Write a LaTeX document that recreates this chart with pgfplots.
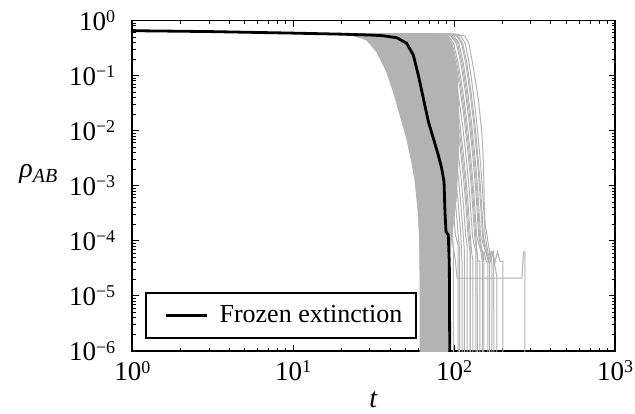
\documentclass[border=0pt]{standalone}
\usepackage{fontspec}
\setmainfont{Liberation Serif}
\usepackage{pgfplots}
\pgfplotsset{compat=1.18}
\definecolor{traj}{RGB}{179,179,179}
\newcommand{\tp}[1]{10\raisebox{3.8pt}{\fontsize{9}{11}\selectfont #1}}
\newcommand{\figfont}{\fontsize{13}{15}\selectfont}
\newcommand{\tickfont}{\fontsize{13.5}{15}\selectfont}

\begin{document}
\begin{tikzpicture}
\begin{axis}[
  name=ax,
  scale only axis,
  width=241.35pt, height=165.25pt,
  xmode=log, ymode=log,
  xmin=1, xmax=1000, ymin=1e-6, ymax=1,
  xtick={1,10,100,1000},
  xticklabels={\tp{0},\tp{1},\tp{2},\tp{3}},
  ytick={1e-6,1e-5,1e-4,1e-3,1e-2,1e-1,1},
  yticklabels={\tp{−6},\tp{−5},\tp{−4},\tp{−3},\tp{−2},\tp{−1},\tp{0}},
  tick align=inside,
  major tick length=3.2pt, minor tick length=1.7pt,
  axis line style={line width=0.8pt},
  every tick/.style={black, line width=0.5pt},
  tick label style={font=\tickfont},
  xticklabel style={yshift=-1.5pt},
  yticklabel style={xshift=-5pt},
  xlabel={\textit{t}},
  xlabel style={font=\fontsize{14}{16}\selectfont, yshift=1.5pt},
  ylabel={\fontsize{14}{16}\selectfont\textit{ρ}\raisebox{-2.5pt}{\fontsize{10}{12}\selectfont\textit{AB}}},
  every axis y label/.style={at={(ticklabel cs:0.535)}, anchor=east, xshift=1pt},
  legend style={at={(axis description cs:0.0263,0.0363)}, anchor=south west,
    draw=black, line width=0.8pt, font=\figfont, inner xsep=5pt, inner ysep=4.2pt,
    cells={anchor=west}},
  legend image code/.code={\path (0pt,0pt) (28.5pt,0pt); \draw[#1] (4.5pt,0pt) -- (25pt,0pt);},
  gl/.style={traj, line width=0.5pt, forget plot},
]

% dense core of the trajectories
\addplot[fill=traj, draw=traj, line width=0.4pt, forget plot] coordinates {
(20,0.57) (23,0.54) (26,0.487) (28.6,0.443) (33,0.271) (38.1,0.1175) (41.9,0.051)
(46.1,0.0192) (50.7,0.00727) (54.5,0.00273) (57.1,0.00127) (59.9,3.16e-4) (61,1e-4)
(61.4,1.95e-5) (61.4,1e-7) (91.6,1e-7) (92,2e-5) (93,4.4e-5) (97,1.27e-4) (103,5.5e-4)
(106,2.9e-3) (107,0.0238) (104,0.126) (97,0.36) (90,0.545) (80,0.57)};

% single trajectories
\addplot[gl] coordinates {(20,0.57)(44,0.565)(52,0.52)(59,0.39)(66,0.17)(73,0.055)(80,0.015)(86,4e-3)(91,1.2e-3)(95,3.5e-4)(98,1.27e-4)(99,6.33e-5)(99,1e-7)};
\addplot[gl] coordinates {(20,0.57)(48,0.565)(56,0.52)(63,0.39)(70,0.17)(77,0.055)(84,0.015)(90,4e-3)(95,1.2e-3)(99,3.5e-4)(102,1.27e-4)(106,8.44e-5)(106,1e-7)};
\addplot[gl] coordinates {(20,0.57)(52,0.565)(60,0.52)(67,0.39)(74,0.17)(81,0.055)(88,0.015)(94,4e-3)(99,1.2e-3)(103,3.5e-4)(106,1.27e-4)(108.4,6.33e-5)(108.4,1e-7)};
\addplot[gl] coordinates {(20,0.57)(56,0.565)(64,0.52)(71,0.39)(78,0.17)(85,0.055)(92,0.015)(98,4e-3)(103,1.2e-3)(107,3.5e-4)(110,1.27e-4)(112,4.22e-5)(112,1e-7)};
\addplot[gl] coordinates {(20,0.57)(60,0.565)(68,0.52)(75,0.39)(82,0.17)(89,0.055)(96,0.015)(102,4e-3)(107,1.2e-3)(111,3.5e-4)(114,1.27e-4)(116,6.33e-5)(116,1e-7)};
\addplot[gl] coordinates {(20,0.57)(64,0.565)(72,0.52)(79,0.39)(86,0.17)(93,0.055)(100,0.015)(106,4e-3)(111,1.2e-3)(115,3.5e-4)(118,1.27e-4)(120.3,8.44e-5)(120.3,1e-7)};
\addplot[gl] coordinates {(20,0.57)(68,0.565)(76,0.52)(83,0.39)(90,0.17)(97,0.055)(104,0.015)(110,4e-3)(115,1.2e-3)(119,3.5e-4)(122,1.27e-4)(125.6,6.33e-5)(125.6,1e-7)};
\addplot[gl] coordinates {(20,0.57)(72,0.565)(80,0.52)(87,0.39)(94,0.17)(101,0.055)(108,0.015)(114,4e-3)(119,1.2e-3)(123,3.5e-4)(126,1.27e-4)(128.5,6.33e-5)(131,4.22e-5)(131,1e-7)};
\addplot[gl] coordinates {(20,0.57)(76,0.565)(84,0.52)(91,0.39)(98,0.17)(105,0.055)(112,0.015)(118,4e-3)(123,1.2e-3)(127,3.5e-4)(130,1.27e-4)(133,8.44e-5)(136.8,6.33e-5)(136.8,1e-7)};
\addplot[gl] coordinates {(20,0.57)(80,0.565)(88,0.52)(95,0.39)(102,0.17)(109,0.055)(116,0.015)(122,4e-3)(127,1.2e-3)(131,3.5e-4)(134,1.27e-4)(138,6.33e-5)(141,4.22e-5)(144.8,4.22e-5)(144.8,1e-7)};
\addplot[gl] coordinates {(20,0.57)(84,0.565)(92,0.52)(99,0.39)(106,0.17)(113,0.055)(120,0.015)(126,4e-3)(131,1.2e-3)(135,3.5e-4)(138,1.27e-4)(143,8.44e-5)(147,6.33e-5)(150,4.22e-5)(153.4,6.33e-5)(153.4,1e-7)};
\addplot[gl] coordinates {(20,0.57)(88,0.565)(96,0.52)(103,0.39)(110,0.17)(117,0.055)(124,0.015)(130,4e-3)(135,1.2e-3)(139,3.5e-4)(142,1.27e-4)(148,6.33e-5)(154,6.33e-5)(158,4.22e-5)(162.4,4.22e-5)(162.4,1e-7)};
\addplot[gl] coordinates {(20,0.57)(92,0.565)(100,0.52)(107,0.39)(114,0.17)(121,0.055)(128,0.015)(134,4e-3)(139,1.2e-3)(143,3.5e-4)(146,1.27e-4)(152,8.44e-5)(158,6.33e-5)(163,4.22e-5)(167,6.33e-5)(171.9,4.22e-5)(171.9,1e-7)};
\addplot[gl] coordinates {(20,0.57)(96,0.565)(104,0.52)(111,0.39)(118,0.17)(125,0.055)(132,0.015)(138,4e-3)(143,1.2e-3)(147,3.5e-4)(150,1.27e-4)(157,6.33e-5)(165,4.22e-5)(172,6.33e-5)(178,4.22e-5)(184.6,2.11e-5)(184.6,1e-7)};
\addplot[gl] coordinates {(20,0.57)(103,0.565)(116.5,0.523)(123.5,0.386)(131.4,0.145)(141.6,0.036)(148.9,8.9e-3)(152.5,2.2e-3)(153.8,5.5e-4)(156,2e-4)(160,1.27e-4)(166,6.33e-5)(173,6.33e-5)(180,4.22e-5)(186,6.33e-5)(193,4.22e-5)(201,4.22e-5)(201,1e-7)};
\addplot[gl] coordinates {(20,0.57)(42,0.565)(50,0.52)(57,0.39)(64,0.17)(71,0.055)(78,0.015)(84,4e-3)(89,1.2e-3)(93,3.5e-4)(96,1.27e-4)(100,6.33e-5)(102,4.22e-5)(104.3,2.11e-5)(264,2.11e-5)(270,6.33e-5)(275.6,6.33e-5)(275.6,1e-7)};
\addplot[gl] coordinates {(20,0.57)(70,0.565)(78,0.52)(85,0.39)(92,0.17)(99,0.055)(106,0.015)(112,4e-3)(117,1.2e-3)(121,3.5e-4)(124,1.27e-4)(126,8.44e-5)(126,1e-7)};
\addplot[gl] coordinates {(20,0.57)(82,0.565)(90,0.52)(97,0.39)(104,0.17)(111,0.055)(118,0.015)(124,4e-3)(129,1.2e-3)(133,3.5e-4)(136,1.27e-4)(139,6.33e-5)(140,1e-7)};
\addplot[gl] coordinates {(20,0.57)(90,0.565)(98,0.52)(105,0.39)(112,0.17)(119,0.055)(126,0.015)(132,4e-3)(137,1.2e-3)(141,3.5e-4)(144,1.27e-4)(147,8.44e-5)(150,6.33e-5)(150,1e-7)};
\addplot[gl] coordinates {(20,0.57)(98,0.565)(106,0.52)(113,0.39)(120,0.17)(127,0.055)(134,0.015)(140,4e-3)(145,1.2e-3)(149,3.5e-4)(152,1.27e-4)(156,8.44e-5)(160,6.33e-5)(164,4.22e-5)(166,4.22e-5)(166,1e-7)};
\addplot[gl] coordinates {(20,0.57)(102,0.565)(110,0.52)(117,0.39)(124,0.17)(131,0.055)(138,0.015)(144,4e-3)(149,1.2e-3)(153,3.5e-4)(156,1.27e-4)(162,6.33e-5)(168,4.22e-5)(176,6.33e-5)(177,1e-7)};

% frozen extinction
\addplot[black, line width=1.4pt] coordinates {
(1,0.653)(3,0.63)(10,0.59)(20,0.565)(30,0.545)(36,0.53)(44,0.487)(50.7,0.386)
(55.8,0.236)(59.9,0.1025)(64.4,0.0387)(69.2,0.0146)(74.3,0.00727)(79.8,0.00361)
(83.7,0.00207)(86.6,0.00118)(87.8,3.16e-4)(89.1,1.47e-4)(92,1.28e-4)(93.4,3.9e-5)(94.3,1e-7)};
\addlegendentry{Frozen extinction}
\end{axis}
\pgfresetboundingbox
\path ([shift={(-66.15pt,-31.5pt)}]ax.south west) rectangle ([shift={(10pt,10.25pt)}]ax.north east);
\end{tikzpicture}
\end{document}
